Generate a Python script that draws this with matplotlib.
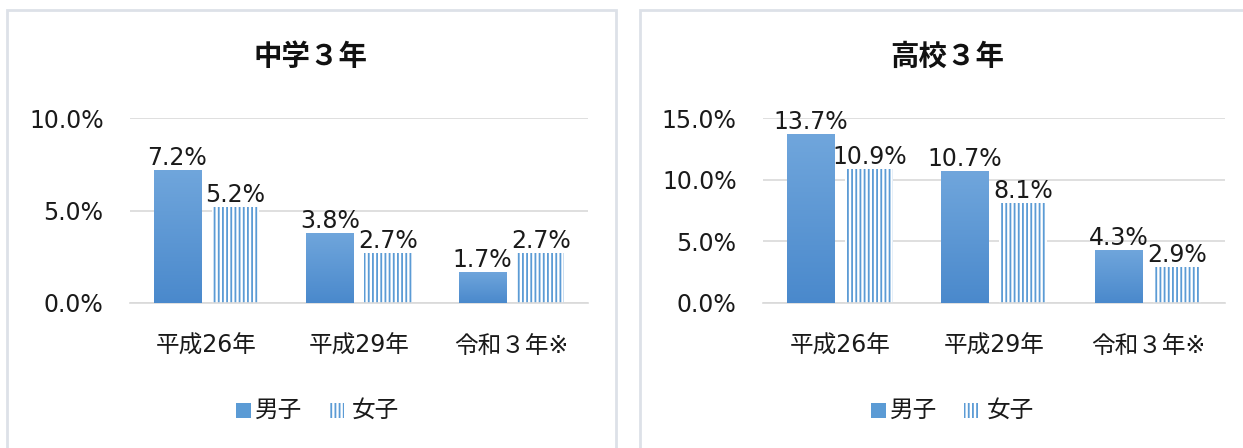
import matplotlib
matplotlib.use("Agg")
import matplotlib.pyplot as plt
import numpy as np
from matplotlib.patches import Rectangle
from matplotlib.colors import LinearSegmentedColormap

plt.rcParams['font.family'] = ['DejaVu Sans', 'Noto Sans CJK JP']

categories = ['平成26年', '平成29年', '令和３年※']
series_names = ['男子', '女子']
chu_male = [7.2, 3.8, 1.7]
chu_female = [5.2, 2.7, 2.7]
ko_male = [13.7, 10.7, 4.3]
ko_female = [10.9, 8.1, 2.9]
chu_title = '中学３年'
ko_title = '高校３年'
chu_yticks = [0, 5, 10]
ko_yticks = [0, 5, 10, 15]

W, H = 1243, 448
fig = plt.figure(figsize=(W / 100, H / 100), dpi=100)

border = '#dde1e8'
grid_c = '#d9d9d9'
blue_hatch = '#5b9bd5'
cmap = LinearSegmentedColormap.from_list('g', ['#4a89cc', '#70a6dc'])
FS = 17
txt_c = '#1a1a1a'

# panel borders
for (x0, x1) in [(7, 616), (640, 1250)]:
    fig.add_artist(Rectangle((x0 / W, -0.1), (x1 - x0) / W, (H - 10) / H + 0.1,
                             transform=fig.transFigure, fill=False,
                             edgecolor=border, linewidth=2))

plt.rcParams['hatch.linewidth'] = 1.3


def draw_panel(ax, male, female, yticks, title, title_x, legend_x):
    x = np.arange(len(categories))
    w = 0.31
    off = 0.19
    ax.set_xlim(-0.5, len(categories) - 0.5)
    ax.set_ylim(0, yticks[-1])
    grad = np.linspace(0, 1, 256).reshape(-1, 1)
    for xi, v in zip(x, male):
        b = ax.bar(xi - off, v, w, color='#5b9bd5', zorder=2)[0]
        im = ax.imshow(grad, extent=(xi - off - w / 2, xi - off + w / 2, 0, v),
                       origin='lower', cmap=cmap, aspect='auto', zorder=3)
        im.set_clip_path(b)
        ax.text(xi - off, v, f'{v:.1f}%', ha='center', va='bottom', fontsize=FS,
                color=txt_c, zorder=5)
    for xi, v in zip(x, female):
        ax.bar(xi + off, v, w, facecolor='white', edgecolor=blue_hatch,
               hatch='||||', linewidth=0, zorder=2)
        ax.text(xi + off, v, f'{v:.1f}%', ha='center', va='bottom', fontsize=FS,
                color=txt_c, zorder=5)
    ax.set_aspect('auto')
    ax.set_yticks(yticks)
    ax.set_yticklabels([f'{t:.1f}%' for t in yticks])
    ax.set_xticks(x)
    ax.set_xticklabels(categories)
    ax.tick_params(axis='y', length=0, pad=19, labelsize=FS, labelcolor=txt_c)
    ax.tick_params(axis='x', length=0, pad=22, labelsize=FS, labelcolor=txt_c)
    ax.grid(axis='y', color=grid_c, linewidth=1.2, zorder=0)
    ax.set_axisbelow(True)
    for s in ['top', 'right', 'left']:
        ax.spines[s].set_visible(False)
    ax.spines['bottom'].set_color(grid_c)
    ax.spines['bottom'].set_linewidth(1.2)
    fig.text(title_x / W, 1 - 57 / H, title, ha='center', va='center',
             fontsize=20.5, fontweight='bold', color='#111111')
    # legend
    ly = 1 - 410 / H
    fig.patches.append(Rectangle(((legend_x) / W, ly - 8 / H), 15 / W, 15 / H,
                                 transform=fig.transFigure, facecolor='#5b9bd5',
                                 edgecolor='none'))
    fig.text((legend_x + 19) / W, ly, series_names[0], ha='left', va='center',
             fontsize=FS, color=txt_c)
    fig.patches.append(Rectangle(((legend_x + 93) / W, ly - 8 / H), 15 / W, 15 / H,
                                 transform=fig.transFigure, facecolor='white',
                                 edgecolor=blue_hatch, hatch='||||', linewidth=0))
    fig.text((legend_x + 116) / W, ly, series_names[1], ha='left', va='center',
             fontsize=FS, color=txt_c)


ax1 = fig.add_axes([130 / W, 145 / H, 458 / W, 185 / H])
draw_panel(ax1, chu_male, chu_female, chu_yticks, chu_title, 311, 236)
ax2 = fig.add_axes([763 / W, 145 / H, 462 / W, 185 / H])
draw_panel(ax2, ko_male, ko_female, ko_yticks, ko_title, 947, 871)

fig.savefig('out.png', dpi=100, facecolor='white')
